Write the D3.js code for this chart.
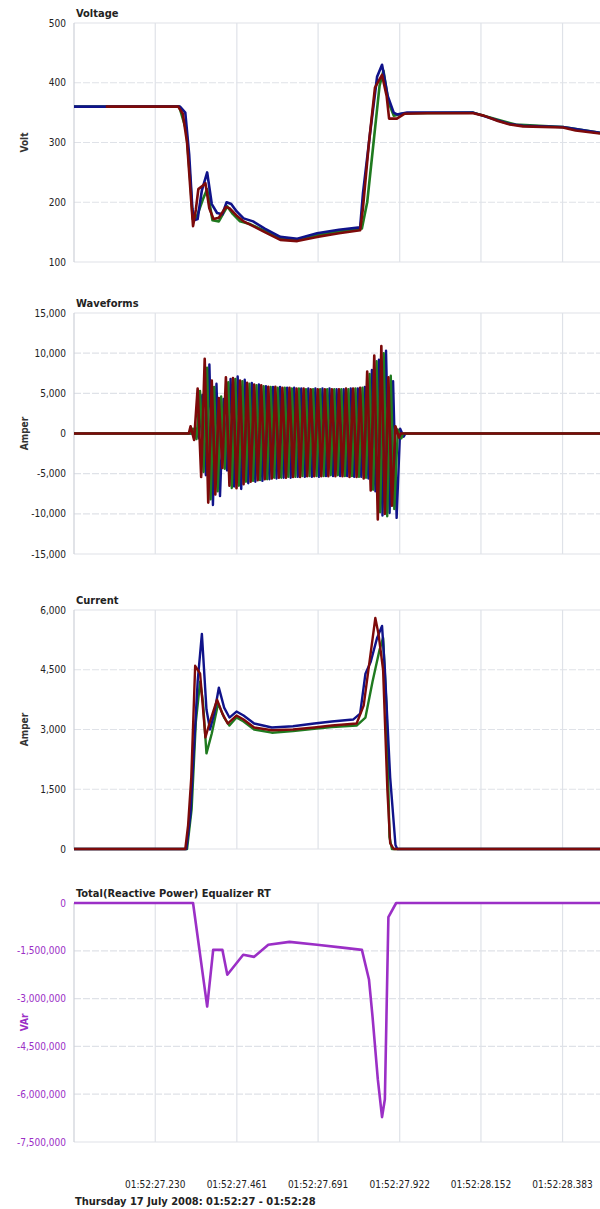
<!DOCTYPE html>
<html>
<head>
  <meta charset="utf-8">
  <title>Power quality event</title>
  <script src="https://d3js.org/d3.v7.min.js"></script>
  <style>
    body { margin: 0; background: #fff; }
    text { font-family: "DejaVu Sans Condensed", "DejaVu Sans", sans-serif; }
  </style>
</head>
<body>
<div id="chart"></div>
<script>
// time in seconds after 01:52:27.000
var timeTicks = [0.230, 0.461, 0.691, 0.922, 1.152, 1.383];
var timeTickLabels = ["01:52:27.230", "01:52:27.461", "01:52:27.691", "01:52:27.922", "01:52:28.152", "01:52:28.383"];
var footerText = "Thursday 17 July 2008: 01:52:27 - 01:52:28";

// Voltage (Volt) per phase: [t, value]
var voltBlue = [[0,360],[0.3,360],[0.315,350],[0.326,280],[0.335,190],[0.34,170],[0.35,172],[0.362,220],[0.377,250],[0.39,197],[0.405,182],[0.42,180],[0.432,200],[0.445,197],[0.46,185],[0.48,173],[0.507,168],[0.54,156],[0.584,142],[0.632,139],[0.688,148],[0.75,154],[0.81,158],[0.818,215],[0.838,315],[0.858,410],[0.872,430],[0.888,378],[0.905,350],[0.914,347],[0.943,350],[1.13,350],[1.2,337],[1.234,331],[1.271,328],[1.384,326],[1.489,316]];
var voltGreen = [[0,360],[0.298,360],[0.318,320],[0.33,230],[0.336,172],[0.347,175],[0.365,205],[0.377,222],[0.392,170],[0.41,168],[0.434,193],[0.45,180],[0.47,168],[0.5,163],[0.54,152],[0.584,140],[0.632,137],[0.688,145],[0.75,151],[0.815,156],[0.83,200],[0.848,300],[0.865,395],[0.876,420],[0.89,368],[0.905,345],[0.935,349],[1.13,350],[1.2,338],[1.25,330],[1.384,326],[1.489,316]];
var voltRed = [[0.09,360],[0.295,360],[0.308,348],[0.32,300],[0.332,200],[0.337,160],[0.345,188],[0.352,222],[0.365,228],[0.372,232],[0.383,190],[0.395,172],[0.41,174],[0.43,192],[0.44,190],[0.46,178],[0.48,168],[0.507,160],[0.54,150],[0.584,137],[0.632,135],[0.688,142],[0.75,148],[0.81,153],[0.818,190],[0.835,300],[0.852,392],[0.872,413],[0.885,378],[0.892,340],[0.914,340],[0.935,348],[1.0,349],[1.13,349],[1.16,345],[1.2,336],[1.234,330],[1.271,327],[1.384,325],[1.42,320],[1.489,315]];

// Waveforms (Amper): 50 Hz, positive / negative peak of each cycle per phase
var waveStart = 0.325, wavePeriod = 0.02;
var wavePosBlue  = [700,4800,8600,6200,4300,6800,7100,6700,6300,6100,5900,5800,5800,5700,5700,5600,5600,5600,5600,5600,5500,5500,5600,5600,5800,7900,9200,10300,6500,600];
var waveNegBlue  = [-600,-5200,-8900,-7800,-4600,-6600,-6900,-6200,-6000,-5900,-5700,-5600,-5500,-5500,-5400,-5400,-5400,-5400,-5300,-5300,-5300,-5300,-5400,-5400,-5600,-7200,-10200,-9900,-10500,-400];
var wavePosGreen = [600,5300,8200,5800,4600,6400,6800,6500,6200,6000,5900,5800,5700,5700,5600,5600,5500,5500,5500,5500,5500,5500,5500,5600,5700,7400,9000,10000,7200,500];
var waveNegGreen = [-700,-4800,-8200,-7200,-4400,-6800,-6500,-6000,-5900,-5800,-5700,-5500,-5500,-5400,-5400,-5300,-5300,-5300,-5300,-5200,-5200,-5300,-5300,-5400,-5500,-7000,-9800,-10300,-9400,-600];
var wavePosRed   = [900,5600,9300,6600,4400,7000,6900,6600,6300,6100,6000,5800,5800,5700,5700,5600,5600,5500,5500,5500,5500,5500,5600,5600,5700,7700,9700,10900,7000,900];
var waveNegRed   = [-800,-5400,-8600,-7600,-4300,-6500,-6800,-6300,-6000,-5800,-5700,-5600,-5500,-5500,-5400,-5400,-5300,-5300,-5300,-5300,-5300,-5300,-5400,-5400,-5600,-7100,-10700,-10000,-9000,-500];

// Current (Amper) per phase: [t, value]
var currBlue = [[0,0],[0.318,0],[0.33,900],[0.34,2600],[0.35,4200],[0.362,5400],[0.375,3500],[0.385,3000],[0.397,3400],[0.41,4050],[0.425,3550],[0.44,3300],[0.46,3450],[0.48,3350],[0.51,3150],[0.56,3050],[0.62,3080],[0.68,3150],[0.73,3200],[0.79,3250],[0.81,3400],[0.825,4400],[0.84,4700],[0.858,5300],[0.872,5600],[0.88,4500],[0.895,1800],[0.91,100],[0.915,0],[1.489,0]];
var currGreen = [[0,0],[0.32,0],[0.333,1000],[0.345,3200],[0.357,4200],[0.365,3700],[0.375,2400],[0.39,2900],[0.408,3650],[0.425,3300],[0.44,3100],[0.46,3300],[0.48,3200],[0.51,3000],[0.56,2920],[0.62,2960],[0.68,3020],[0.73,3060],[0.80,3100],[0.825,3300],[0.845,4200],[0.865,5000],[0.875,5300],[0.885,3500],[0.893,300],[0.90,0],[1.489,0]];
var currRed = [[0,0],[0.315,0],[0.323,600],[0.332,1800],[0.343,4600],[0.357,4400],[0.372,2800],[0.385,3200],[0.405,3750],[0.42,3400],[0.435,3150],[0.46,3350],[0.48,3250],[0.51,3050],[0.56,2980],[0.62,3000],[0.68,3050],[0.73,3100],[0.80,3150],[0.82,3600],[0.838,4800],[0.853,5800],[0.862,5400],[0.875,4500],[0.887,1500],[0.895,150],[0.905,0],[1.489,0]];

// Total reactive power (VAr)
var reactive = [[0,0],[0.337,0],[0.377,-3250000],[0.394,-1470000],[0.42,-1470000],[0.434,-2250000],[0.479,-1625000],[0.51,-1690000],[0.55,-1310000],[0.61,-1220000],[0.688,-1310000],[0.76,-1400000],[0.815,-1470000],[0.835,-2400000],[0.845,-3560000],[0.86,-5530000],[0.872,-6720000],[0.88,-6160000],[0.89,-440000],[0.912,0],[1.489,0]];

var blue = "#10138a", green = "#1f7a1f", red = "#7d0a0a", purple = "#9b2fc6";

// build zig-zag sample list of one phase
function wavePoints(pos, neg, offset) {
  var pts = [[0, 0], [waveStart + offset, 0]];
  pos.forEach(function(p, k) {
    var t = waveStart + offset + k * wavePeriod;
    pts.push([t + wavePeriod / 4, p]);
    pts.push([t + 3 * wavePeriod / 4, neg[k]]);
  });
  pts.push([waveStart + offset + pos.length * wavePeriod, 0]);
  pts.push([1.489, 0]);
  return pts;
}

var panels = [
  {title: "Voltage", unit: "Volt", top: 23, bottom: 262, domain: [100, 500], step: 100, tickColor: "#222",
   series: [{d: voltGreen, c: green, w: 2.6}, {d: voltBlue, c: blue, w: 2.6}, {d: voltRed, c: red, w: 2.6}]},
  {title: "Waveforms", unit: "Amper", top: 313, bottom: 554, domain: [-15000, 15000], step: 5000, tickColor: "#222",
   series: [{d: wavePoints(wavePosBlue, waveNegBlue, 0.0133), c: blue, w: 2.4},
            {d: wavePoints(wavePosGreen, waveNegGreen, 0.0067), c: green, w: 2.4},
            {d: wavePoints(wavePosRed, waveNegRed, 0), c: red, w: 2.6}]},
  {title: "Current", unit: "Amper", top: 610, bottom: 849, domain: [0, 6000], step: 1500, tickColor: "#222",
   series: [{d: currGreen, c: green, w: 2.4}, {d: currBlue, c: blue, w: 2.4}, {d: currRed, c: red, w: 2.4}]},
  {title: "Total(Reactive Power) Equalizer RT", unit: "VAr", top: 903, bottom: 1142, domain: [-7500000, 0], step: 1500000, tickColor: purple,
   series: [{d: reactive, c: purple, w: 2.6}]}
];

var W = 600, H = 1209, left = 74, right = 600;

var svg = d3.select("#chart").append("svg")
  .attr("width", W)
  .attr("height", H);

var x = d3.scaleLinear().domain([0, 1.489]).range([left, right]);
var fmt = function(d) { return d3.format(",")(d).replace("\u2212", "-"); };

panels.forEach(function(p) {
  var y = d3.scaleLinear().domain(p.domain).range([p.bottom, p.top]);
  var g = svg.append("g");
  var yTicks = d3.range(p.domain[0], p.domain[1] + p.step / 2, p.step);

  // grid
  g.selectAll(".hg").data(yTicks).enter().append("line")
    .attr("x1", left).attr("x2", right)
    .attr("y1", function(d) { return y(d); }).attr("y2", function(d) { return y(d); })
    .attr("stroke", "#dfe2e8").attr("stroke-width", 1.2)
    .attr("stroke-dasharray", function(d, i) { return (i == 0 || i == yTicks.length - 1) ? null : "7,2"; });
  g.selectAll(".vg").data(timeTicks).enter().append("line")
    .attr("x1", function(d) { return x(d); }).attr("x2", function(d) { return x(d); })
    .attr("y1", p.top).attr("y2", p.bottom)
    .attr("stroke", "#dfe2e8").attr("stroke-width", 1.2);
  g.append("line")
    .attr("x1", left).attr("x2", left).attr("y1", p.top).attr("y2", p.bottom)
    .attr("stroke", "#cdd1d8").attr("stroke-width", 1.2);

  // y tick labels
  g.selectAll(".yl").data(yTicks).enter().append("text")
    .attr("x", 66).attr("y", function(d) { return y(d) + 3.5; })
    .attr("text-anchor", "end")
    .attr("font-size", "10px")
    .attr("fill", p.tickColor)
    .text(function(d) { return fmt(d); });

  // title
  g.append("text")
    .attr("x", 76).attr("y", p.top - 6)
    .attr("font-size", "11px").attr("font-weight", "bold").attr("fill", "#222")
    .text(p.title);

  // unit label
  g.append("text")
    .attr("transform", "translate(28," + ((p.top + p.bottom) / 2) + ") rotate(-90)")
    .attr("text-anchor", "middle")
    .attr("font-size", "10px").attr("font-weight", "bold")
    .attr("fill", p.tickColor == purple ? purple : "#333")
    .text(p.unit);

  // lines
  var line = d3.line()
    .x(function(d) { return x(d[0]); })
    .y(function(d) { return y(d[1]); });
  p.series.forEach(function(s) {
    g.append("path")
      .datum(s.d)
      .attr("d", line)
      .attr("fill", "none")
      .attr("stroke", s.c)
      .attr("stroke-width", s.w)
      .attr("stroke-linejoin", "round");
  });
});

// time axis labels
svg.selectAll(".xl").data(timeTicks).enter().append("text")
  .attr("x", function(d) { return x(d); })
  .attr("y", 1188)
  .attr("text-anchor", "middle")
  .attr("font-size", "10px")
  .attr("fill", "#222")
  .text(function(d, i) { return timeTickLabels[i]; });

svg.append("text")
  .attr("x", 75).attr("y", 1205)
  .attr("font-size", "11px").attr("font-weight", "bold").attr("fill", "#222")
  .text(footerText);
</script>
</body>
</html>
